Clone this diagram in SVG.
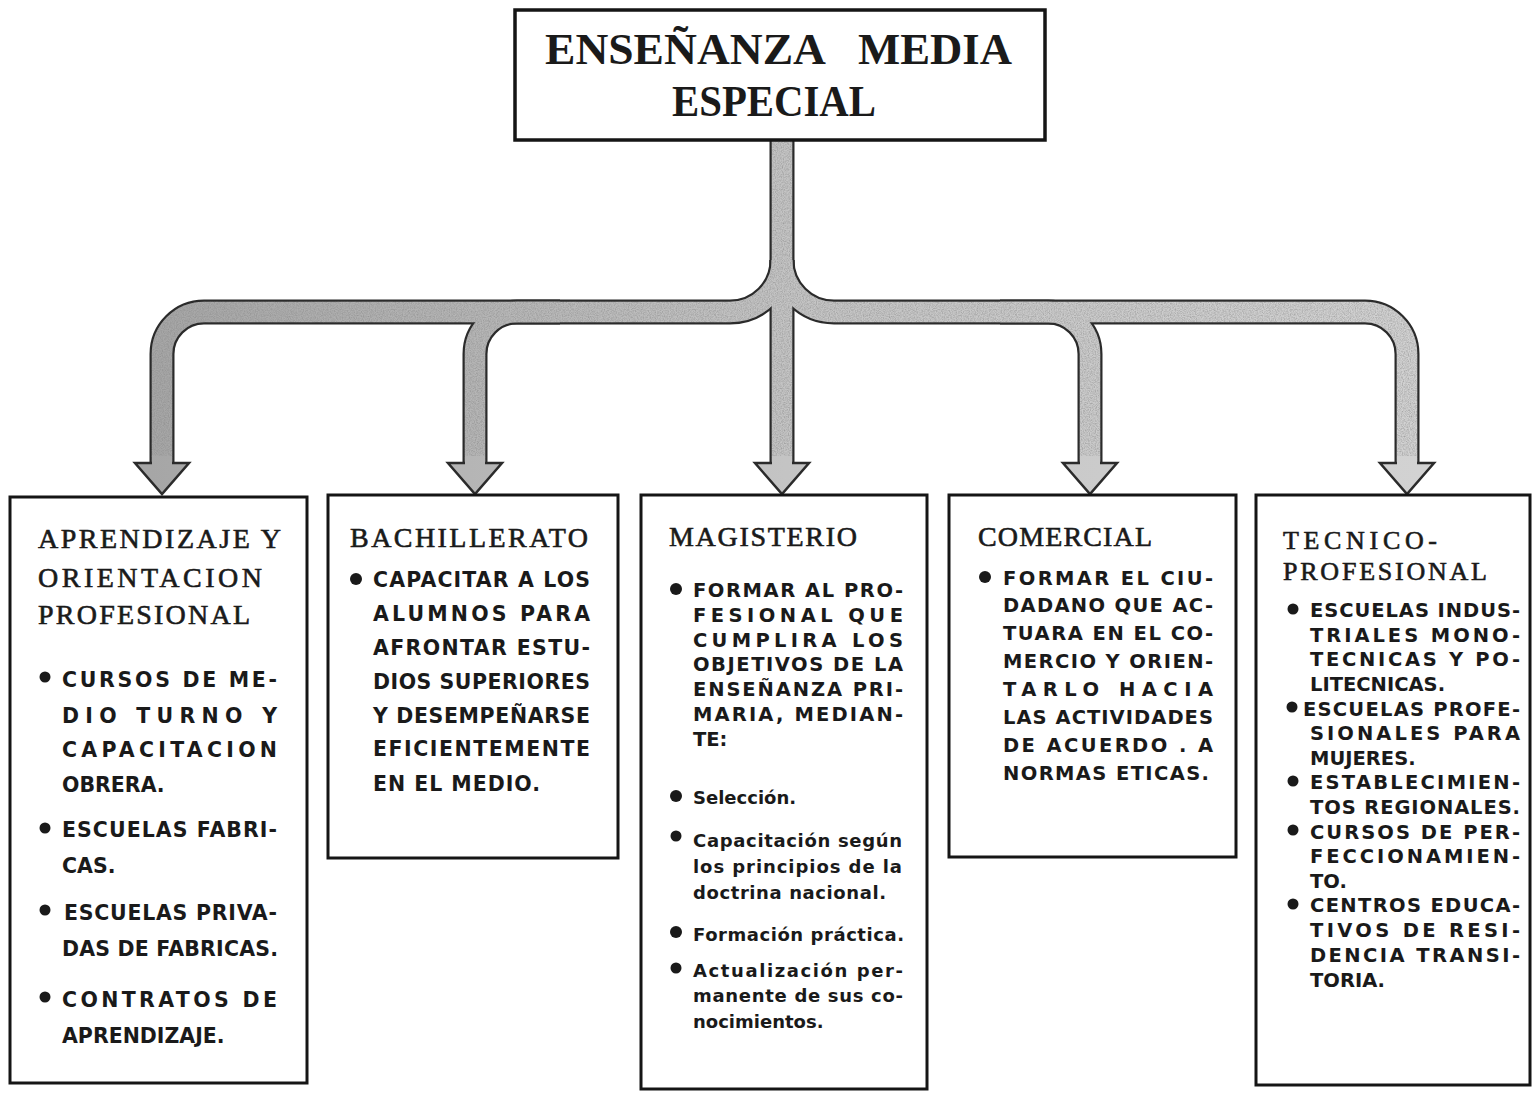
<svg xmlns="http://www.w3.org/2000/svg" width="1538" height="1093" viewBox="0 0 1538 1093">
<style>
.box{fill:#fff;stroke:#151515;stroke-width:3}
.tt{font-family:"Liberation Serif",serif;font-weight:bold;font-size:44px;fill:#1a1a1a}
.hd{font-family:"Liberation Serif",serif;font-size:28px;fill:#1a1a1a;stroke:#1a1a1a;stroke-width:0.6}
.hd5{font-family:"Liberation Serif",serif;font-size:26px;fill:#1a1a1a;stroke:#1a1a1a;stroke-width:0.6}
.b20{font-family:"DejaVu Sans","Liberation Sans",sans-serif;font-weight:bold;font-size:20.5px;fill:#1a1a1a}
.b19{font-family:"DejaVu Sans","Liberation Sans",sans-serif;font-weight:bold;font-size:19.5px;fill:#1a1a1a}
.l18{font-family:"DejaVu Sans","Liberation Sans",sans-serif;font-weight:bold;font-size:18px;fill:#1a1a1a}
.dot{fill:#1a1a1a}
.po{fill:none;stroke:#2b2b2b;stroke-width:25}
.pi{fill:none;stroke:url(#pg);stroke-width:20.5}
.ah{fill:url(#pg);stroke:#2b2b2b;stroke-width:2.5;stroke-linejoin:miter}
</style>
<defs>
<linearGradient id="pg" gradientUnits="userSpaceOnUse" x1="150" y1="0" x2="1420" y2="0">
<stop offset="0" stop-color="#a6a6a6"/>
<stop offset="0.5" stop-color="#c4c4c4"/>
<stop offset="1" stop-color="#d2d2d2"/>
</linearGradient>
<filter id="grain" filterUnits="userSpaceOnUse" x="100" y="130" width="1360" height="380">
<feTurbulence type="fractalNoise" baseFrequency="0.85" numOctaves="2" seed="4" result="n"/>
<feColorMatrix in="n" type="matrix" values="0 0 0 0 0.25  0 0 0 0 0.25  0 0 0 0 0.25  1.3 0 0 0 -0.45" result="d"/>
<feComposite in="d" in2="SourceGraphic" operator="in" result="s"/>
<feMerge><feMergeNode in="SourceGraphic"/><feMergeNode in="s"/></feMerge>
</filter>
</defs>
<rect width="1538" height="1093" fill="#fff"/>

<g id="connectors">
<g id="pipe-edges">
<path class="po" d="M782,141 V466"/>
<path class="po" d="M782,260 A52,52 0 0 1 730,312 H204 A42,42 0 0 0 162,354 V466"/>
<path class="po" d="M782,260 A52,52 0 0 0 834,312 H1365 A42,42 0 0 1 1407,354 V466"/>
<path class="po" d="M560,312 H517 A42,42 0 0 0 475,354 V466"/>
<path class="po" d="M1000,312 H1048 A42,42 0 0 1 1090,354 V466"/>
</g>
<g id="pipe-fill" filter="url(#grain)">
<path class="pi" d="M782,141 V466"/>
<path class="pi" d="M782,260 A52,52 0 0 1 730,312 H204 A42,42 0 0 0 162,354 V466"/>
<path class="pi" d="M782,260 A52,52 0 0 0 834,312 H1365 A42,42 0 0 1 1407,354 V466"/>
<path class="pi" d="M560,312 H517 A42,42 0 0 0 475,354 V466"/>
<path class="pi" d="M1000,312 H1048 A42,42 0 0 1 1090,354 V466"/>
</g>
<g id="arrowheads">
<polygon class="ah" points="135,463 189,463 162,494"/>
<polygon class="ah" points="448,463 502,463 475,494"/>
<polygon class="ah" points="755,463 809,463 782,494"/>
<polygon class="ah" points="1063,463 1117,463 1090,494"/>
<polygon class="ah" points="1380,463 1434,463 1407,494"/>
<rect x="152" y="456" width="20" height="10" fill="url(#pg)"/>
<rect x="465" y="456" width="20" height="10" fill="url(#pg)"/>
<rect x="772" y="456" width="20" height="10" fill="url(#pg)"/>
<rect x="1080" y="456" width="20" height="10" fill="url(#pg)"/>
<rect x="1397" y="456" width="20" height="10" fill="url(#pg)"/>
</g>
</g>

<g id="top">
<rect class="box" x="515" y="10" width="530" height="130" style="stroke-width:3.5"/>
<text class="tt" x="545" y="64" textLength="281" lengthAdjust="spacingAndGlyphs">ENSEÑANZA</text>
<text class="tt" x="858" y="64" textLength="154" lengthAdjust="spacingAndGlyphs">MEDIA</text>
<text class="tt" x="672" y="116" textLength="204" lengthAdjust="spacingAndGlyphs">ESPECIAL</text>
</g>

<g id="aprendizaje">
<rect class="box" x="10" y="497" width="297" height="586"/>
<text class="hd" x="38" y="548" textLength="243">APRENDIZAJE Y</text>
<text class="hd" x="38" y="587" textLength="224">ORIENTACION</text>
<text class="hd" x="38" y="624" textLength="212">PROFESIONAL</text>
<circle class="dot" cx="45" cy="677" r="5.5"/>
<text class="b20" x="62" y="687" textLength="215">CURSOS DE ME-</text>
<text class="b20" x="62" y="723" textLength="215">DIO TURNO Y</text>
<text class="b20" x="62" y="757" textLength="215">CAPACITACION</text>
<text class="b20" x="62" y="792">OBRERA.</text>
<circle class="dot" cx="45" cy="828" r="5.5"/>
<text class="b20" x="62" y="837" textLength="215">ESCUELAS FABRI-</text>
<text class="b20" x="62" y="873">CAS.</text>
<circle class="dot" cx="45" cy="910" r="5.5"/>
<text class="b20" x="64" y="920" textLength="213">ESCUELAS PRIVA-</text>
<text class="b20" x="62" y="956" textLength="216">DAS DE FABRICAS.</text>
<circle class="dot" cx="45" cy="997" r="5.5"/>
<text class="b20" x="62" y="1007" textLength="215">CONTRATOS DE</text>
<text class="b20" x="62" y="1043">APRENDIZAJE.</text>
</g>

<g id="bachillerato">
<rect class="box" x="328" y="495" width="290" height="363"/>
<text class="hd" x="350" y="547" textLength="238">BACHILLERATO</text>
<circle class="dot" cx="356" cy="579" r="6"/>
<text class="b20" x="373" y="587" textLength="217">CAPACITAR A LOS</text>
<text class="b20" x="373" y="621" textLength="217">ALUMNOS PARA</text>
<text class="b20" x="373" y="655" textLength="217">AFRONTAR ESTU-</text>
<text class="b20" x="373" y="689" textLength="217">DIOS SUPERIORES</text>
<text class="b20" x="373" y="723" textLength="217">Y DESEMPEÑARSE</text>
<text class="b20" x="373" y="756" textLength="217">EFICIENTEMENTE</text>
<text class="b20" x="373" y="791" textLength="167">EN EL MEDIO.</text>
</g>

<g id="magisterio">
<rect class="box" x="641" y="495" width="286" height="594"/>
<text class="hd" x="669" y="546" textLength="188">MAGISTERIO</text>
<circle class="dot" cx="676" cy="589" r="6"/>
<text class="b19" x="693" y="597" textLength="210">FORMAR AL PRO-</text>
<text class="b19" x="693" y="622" textLength="210">FESIONAL QUE</text>
<text class="b19" x="693" y="647" textLength="210">CUMPLIRA LOS</text>
<text class="b19" x="693" y="671" textLength="210">OBJETIVOS DE LA</text>
<text class="b19" x="693" y="696" textLength="210">ENSEÑANZA PRI-</text>
<text class="b19" x="693" y="721" textLength="210">MARIA, MEDIAN-</text>
<text class="b19" x="693" y="746">TE:</text>
<circle class="dot" cx="676" cy="796" r="6"/>
<text class="l18" x="693" y="804">Selección.</text>
<circle class="dot" cx="676" cy="836" r="5.5"/>
<text class="l18" x="693" y="847" textLength="209">Capacitación según</text>
<text class="l18" x="693" y="873" textLength="209">los principios de la</text>
<text class="l18" x="693" y="899" textLength="193">doctrina nacional.</text>
<circle class="dot" cx="676" cy="932" r="6"/>
<text class="l18" x="693" y="941" textLength="211">Formación práctica.</text>
<circle class="dot" cx="676" cy="968" r="5.5"/>
<text class="l18" x="693" y="977" textLength="210">Actualización per-</text>
<text class="l18" x="693" y="1002" textLength="210">manente de sus co-</text>
<text class="l18" x="693" y="1028">nocimientos.</text>
</g>

<g id="comercial">
<rect class="box" x="949" y="495" width="287" height="362"/>
<text class="hd" x="978" y="546" textLength="174">COMERCIAL</text>
<circle class="dot" cx="985" cy="577" r="6"/>
<text class="b19" x="1003" y="585" textLength="210">FORMAR EL CIU-</text>
<text class="b19" x="1003" y="612" textLength="210">DADANO QUE AC-</text>
<text class="b19" x="1003" y="640" textLength="210">TUARA EN EL CO-</text>
<text class="b19" x="1003" y="668" textLength="210">MERCIO Y ORIEN-</text>
<text class="b19" x="1003" y="696" textLength="210">TARLO HACIA</text>
<text class="b19" x="1003" y="724" textLength="210">LAS ACTIVIDADES</text>
<text class="b19" x="1003" y="752" textLength="210">DE ACUERDO . A</text>
<text class="b19" x="1003" y="780" textLength="206">NORMAS ETICAS.</text>
</g>

<g id="tecnico">
<rect class="box" x="1256" y="495" width="274" height="590"/>
<text class="hd5" x="1283" y="549" textLength="154">TECNICO-</text>
<text class="hd5" x="1283" y="580" textLength="204">PROFESIONAL</text>
<circle class="dot" cx="1293" cy="609" r="5.5"/>
<text class="b19" x="1310" y="617" textLength="210">ESCUELAS INDUS-</text>
<text class="b19" x="1310" y="642" textLength="210">TRIALES MONO-</text>
<text class="b19" x="1310" y="666" textLength="210">TECNICAS Y PO-</text>
<text class="b19" x="1310" y="691">LITECNICAS.</text>
<circle class="dot" cx="1292" cy="707" r="5.5"/>
<text class="b19" x="1303" y="716" textLength="217">ESCUELAS PROFE-</text>
<text class="b19" x="1310" y="740" textLength="210">SIONALES PARA</text>
<text class="b19" x="1310" y="765">MUJERES.</text>
<circle class="dot" cx="1293" cy="781" r="5.5"/>
<text class="b19" x="1310" y="789" textLength="210">ESTABLECIMIEN-</text>
<text class="b19" x="1310" y="814" textLength="210">TOS REGIONALES.</text>
<circle class="dot" cx="1293" cy="830" r="5.5"/>
<text class="b19" x="1310" y="839" textLength="210">CURSOS DE PER-</text>
<text class="b19" x="1310" y="863" textLength="210">FECCIONAMIEN-</text>
<text class="b19" x="1310" y="888">TO.</text>
<circle class="dot" cx="1293" cy="904" r="5.5"/>
<text class="b19" x="1310" y="912" textLength="210">CENTROS EDUCA-</text>
<text class="b19" x="1310" y="937" textLength="210">TIVOS DE RESI-</text>
<text class="b19" x="1310" y="962" textLength="210">DENCIA TRANSI-</text>
<text class="b19" x="1310" y="987">TORIA.</text>
</g>
</svg>
